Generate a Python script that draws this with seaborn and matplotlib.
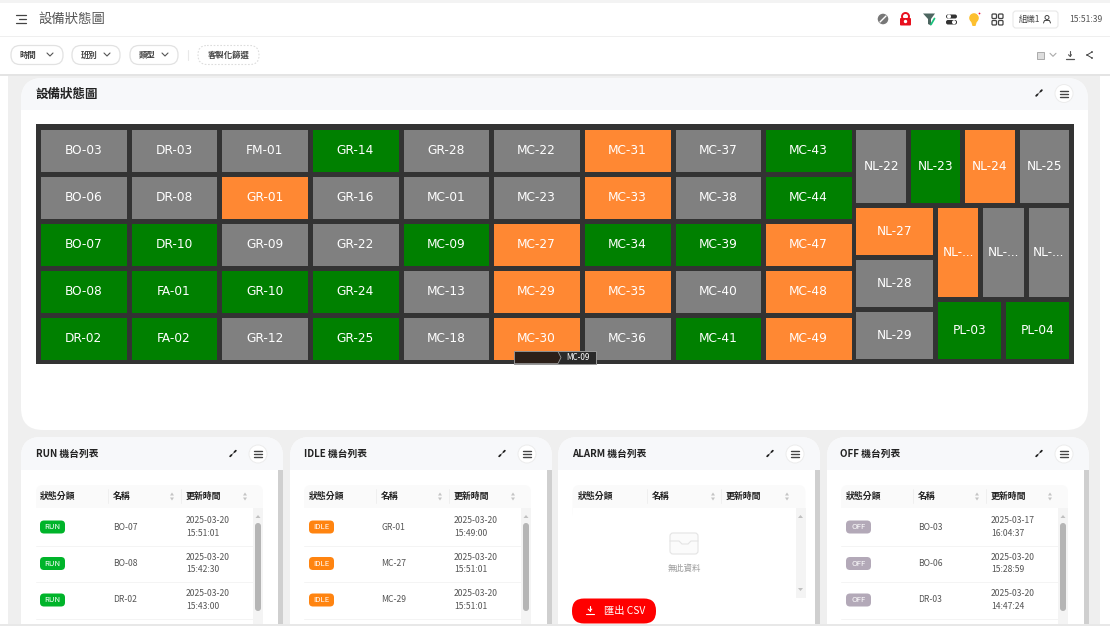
import numpy as np
import matplotlib
matplotlib.use("Agg")
import matplotlib.pyplot as plt
from matplotlib.colors import ListedColormap
from matplotlib.patches import Circle, FancyBboxPatch, Polygon, Rectangle
import seaborn as sns

sns.set_theme(style="white")
CJK = ["Noto Sans CJK TC", "DejaVu Sans"]
plt.rcParams["font.family"] = CJK

# status codes: 0 run, 1 idle, 2 off
RUN, IDLE, OFF = 0, 1, 2
COLORS = ["#008000", "#ff8833", "#808080"]

# main treemap block, one list per row
grid_names = [
    ["BO-03", "DR-03", "FM-01", "GR-14", "GR-28", "MC-22", "MC-31", "MC-37", "MC-43"],
    ["BO-06", "DR-08", "GR-01", "GR-16", "MC-01", "MC-23", "MC-33", "MC-38", "MC-44"],
    ["BO-07", "DR-10", "GR-09", "GR-22", "MC-09", "MC-27", "MC-34", "MC-39", "MC-47"],
    ["BO-08", "FA-01", "GR-10", "GR-24", "MC-13", "MC-29", "MC-35", "MC-40", "MC-48"],
    ["DR-02", "FA-02", "GR-12", "GR-25", "MC-18", "MC-30", "MC-36", "MC-41", "MC-49"],
]
grid_status = [
    [OFF, OFF, OFF, RUN, OFF, OFF, IDLE, OFF, RUN],
    [OFF, OFF, IDLE, OFF, OFF, OFF, IDLE, OFF, RUN],
    [RUN, RUN, OFF, OFF, RUN, IDLE, RUN, RUN, IDLE],
    [RUN, RUN, RUN, RUN, OFF, IDLE, IDLE, OFF, IDLE],
    [RUN, RUN, OFF, RUN, OFF, IDLE, OFF, RUN, IDLE],
]

# the right hand part of the treemap, nested the way it is split
right_names = [
    ["NL-22", "NL-23", "NL-24", "NL-25"],
    [["NL-27", "NL-28", "NL-29"],
     [["NL-...", "NL-...", "NL-..."], ["PL-03", "PL-04"]]],
]
right_status = [OFF, RUN, IDLE, OFF, IDLE, OFF, OFF, IDLE, OFF, OFF, RUN, RUN]

# list panels
panel_titles = ["RUN 機台列表", "IDLE 機台列表", "ALARM 機台列表", "OFF 機台列表"]
panel_pills = ["RUN", "IDLE", None, "OFF"]
panel_pill_colors = ["#00b42a", "#ff8410", None, "#b3a9b8"]
panel_machines = [["BO-07", "BO-08", "DR-02"], ["GR-01", "MC-27", "MC-29"], [], ["BO-03", "BO-06", "DR-03"]]
panel_dates = [
    ["2025-03-20", "2025-03-20", "2025-03-20"],
    ["2025-03-20", "2025-03-20", "2025-03-20"],
    [],
    ["2025-03-17", "2025-03-20", "2025-03-20"],
]
panel_times = [
    ["15:51:01", "15:42:30", "15:43:00"],
    ["15:49:00", "15:51:01", "15:51:01"],
    [],
    ["16:04:37", "15:28:59", "14:47:24"],
]
table_columns = ["狀態分類", "名稱", "更新時間"]
filter_labels = ["時間", "班別", "類型"]

W, H = 1110, 626
fig = plt.figure(figsize=(W / 100, H / 100), dpi=100, facecolor="#efefef")


def px_axes(zorder):
    a = fig.add_axes([0, 0, 1, 1], zorder=zorder)
    a.set_xlim(0, W)
    a.set_ylim(H, 0)
    a.axis("off")
    a.patch.set_alpha(0)
    return a


def box(a, x0, y0, x1, y1, r=0, fc="white", ec="none", lw=0.8, ls="-", z=1):
    if r:
        p = FancyBboxPatch((x0, y0), x1 - x0, y1 - y0, boxstyle=f"round,pad=0,rounding_size={r}",
                           fc=fc, ec=ec, lw=lw, ls=ls, zorder=z)
    else:
        p = Rectangle((x0, y0), x1 - x0, y1 - y0, fc=fc, ec=ec, lw=lw, ls=ls, zorder=z)
    a.add_patch(p)
    return p


def label(a, x, y, s, size=6, color="#333333", ha="left", weight="normal", z=5):
    a.text(x, y, s, fontsize=size, color=color, ha=ha, va="center", fontweight=weight, zorder=z)


def menu_button(a, cx, cy):
    a.add_patch(Circle((cx, cy), 9.5, fc="#ececec", ec="none", zorder=3))
    a.add_patch(Circle((cx, cy), 8.5, fc="white", ec="none", zorder=3))
    for dy in (-3, 0, 3):
        a.plot([cx - 4, cx + 4], [cy + dy, cy + dy], color="#444444", lw=1.0, zorder=4)


def expand_icon(a, cx, cy):
    a.plot([cx - 3, cx + 3], [cy + 3, cy - 3], color="#555555", lw=0.5, zorder=4)
    a.plot([cx - 2.8, cx - 1.5], [cy + 2.8, cy + 1.5], color="#222222", lw=1.3, zorder=4)
    a.plot([cx + 1.5, cx + 2.8], [cy - 1.5, cy - 2.8], color="#222222", lw=1.3, zorder=4)


def chevron(a, cx, cy, color="#555555", s=3):
    a.plot([cx - s, cx, cx + s], [cy - s / 2, cy + s / 2, cy - s / 2], color=color, lw=0.8, zorder=4)


def sort_arrows(a, cx, cy):
    a.add_patch(Polygon([[cx - 2, cy - 1], [cx + 2, cy - 1], [cx, cy - 4]], fc="#c4c4c4", ec="none", zorder=4))
    a.add_patch(Polygon([[cx - 2, cy + 1], [cx + 2, cy + 1], [cx, cy + 4]], fc="#c4c4c4", ec="none", zorder=4))


bg = px_axes(0)

# page frame
box(bg, 0, 75, 8, H, fc="white")
box(bg, 1100, 75, W, H, fc="white")
box(bg, 0, 0, W, 3, fc="#f3f3f3")
box(bg, 0, 3, W, 36, fc="white")
box(bg, 0, 37, W, 74, fc="white")
box(bg, 0, 74, W, 76, fc="#e4e4e4")
box(bg, 0, 624, W, H, fc="#e8e8e8", z=9)

# top bar
for dy, x0 in ((-4, 16), (0, 19), (4, 16)):
    bg.plot([x0, 26], [19 + dy, 19 + dy], color="#444444", lw=0.9)
label(bg, 38, 19, "設備狀態圖", size=9.6, color="#555555")

bg.add_patch(Circle((883, 19), 6, fc="#777777"))
bg.plot([880, 886], [22, 16], color="white", lw=1)
box(bg, 900, 18, 911, 25.5, r=1, fc="#e8101e")
bg.add_patch(Circle((905.5, 16.5), 3.5, fc="none", ec="#e8101e", lw=1.4))
bg.add_patch(Circle((905.5, 21.5), 1, fc="white", zorder=3))
bg.add_patch(Polygon([[923, 13.5], [935, 13.5], [931, 19], [931, 25.5], [928, 24], [928, 19]], fc="#4d6660", ec="none"))
bg.plot([931, 934.5], [24.5, 18.5], color="#19c37d", lw=1.3)
box(bg, 946, 14.5, 957, 18.5, r=2, fc="#333333")
box(bg, 946, 20, 957, 24.5, r=2, fc="#333333")
bg.add_patch(Circle((949, 16.5), 1.3, fc="white", zorder=3))
bg.add_patch(Circle((954, 22.2), 1.3, fc="white", zorder=3))
bg.add_patch(Circle((974, 18), 5.5, fc="#fdc02f"))
bg.add_patch(Polygon([[971, 21], [977, 21], [975.5, 26], [972.5, 26]], fc="#fdc02f", ec="none"))
bg.add_patch(Circle((979.5, 13.5), 1.6, fc="#f0103c", zorder=3))
for gx in (992, 998.5):
    for gy in (14, 20.5):
        box(bg, gx, gy, gx + 4.5, gy + 4.5, r=1, fc="white", ec="#444444", lw=0.9)
box(bg, 1013, 11, 1058, 28, r=3, fc="white", ec="#e8e8e8")
label(bg, 1019, 19.5, "組織1", size=6, color="#444444")
bg.add_patch(Circle((1047, 17.5), 2, fc="none", ec="#444444", lw=0.7))
bg.plot([1043.5, 1044.5, 1049.5, 1050.5], [23, 20.5, 20.5, 23], color="#444444", lw=0.7)
label(bg, 1069, 19.5, "15:51:39", size=6.2, color="#555555")

# filter pills
pill_spans = [(11, 63), (72, 120), (130, 178)]
for (x0, x1), s in zip(pill_spans, filter_labels):
    box(bg, x0, 45.5, x1, 64.5, r=9, fc="white", ec="#e2e2e2", lw=0.9)
    label(bg, x0 + 9, 55, s, size=6, color="#444444", weight="bold")
    chevron(bg, x1 - 13, 54.5)
bg.plot([187.5, 187.5], [50, 60], color="#e8e8e8", lw=0.8)
box(bg, 198, 45.5, 259, 64.5, r=9, fc="white", ec="#dddddd", lw=0.8, ls=(0, (1.5, 1.5)))
label(bg, 228.5, 55, "客製化篩選", size=6, color="#444444", ha="center", weight="bold")

# toolbar icons
box(bg, 1037, 52, 1044, 59, fc="#dddddd", ec="#aaaaaa", lw=0.7)
chevron(bg, 1053, 54.8, color="#aaaaaa")
bg.plot([1070, 1070], [51, 56], color="#555555", lw=0.8)
bg.plot([1066, 1074], [59, 59], color="#555555", lw=0.9)
chevron(bg, 1070, 55.5, color="#555555", s=1.5)
bg.plot([1092, 1087, 1092], [52, 55, 58], color="#444444", lw=0.7)
for sx, sy in ((1092, 52), (1087, 55), (1092, 58)):
    bg.add_patch(Circle((sx, sy), 1.6, fc="#444444"))

# main card
card = box(bg, 21, 78, 1088, 430, r=22, fc="white")
hd = box(bg, 21, 78, 1088, 110, fc="#f7f8fa", z=1.5)
hd.set_clip_path(card)
label(bg, 35.5, 94, "設備狀態圖", size=9, color="#222222", weight="bold")
expand_icon(bg, 1039, 93)
menu_button(bg, 1064, 93.5)
box(bg, 35.5, 124, 1074, 364, fc="#333333", z=2)

# treemap, every item has the same area
n_rows = len(grid_names)
n_right = len(right_status)
total_cols = len(grid_names[0]) + n_right / n_rows
ax = fig.add_axes([38 / W, 1 - 361.5 / H, (1071.5 - 38) / W, (361.5 - 127.5) / H], zorder=2)
ax.patch.set_alpha(0)
sns.heatmap(
    np.array(grid_status), ax=ax, cmap=ListedColormap(COLORS), vmin=-0.5, vmax=2.5, cbar=False,
    annot=np.array(grid_names), fmt="", annot_kws={"fontsize": 8.7, "color": "white", "family": "DejaVu Sans"},
    linewidths=3.6, linecolor="#333333", xticklabels=False, yticklabels=False,
)
ax.set_xlim(0, total_cols)
ax.set_ylim(n_rows, 0)
ax.axis("off")

pad_x = 2.5 / (1033.5 / total_cols)
pad_y = 2.5 / (234 / n_rows)
status_iter = iter(right_status)


def leaves(node):
    return 1 if isinstance(node, str) else sum(leaves(n) for n in node)


def draw_split(node, x, y, w, h, depth=0):
    if isinstance(node, str):
        ax.add_patch(Rectangle((x + pad_x, y + pad_y), w - 2 * pad_x, h - 2 * pad_y, fc=COLORS[next(status_iter)], ec="none"))
        ax.text(x + w / 2, y + h / 2, node, color="white", fontsize=8.7, family="DejaVu Sans", ha="center", va="center")
        return
    total = leaves(node)
    for child in node:
        share = leaves(child) / total
        if depth % 2 == 0:
            draw_split(child, x, y, w, h * share, depth + 1)
            y += h * share
        else:
            draw_split(child, x, y, w * share, h, depth + 1)
            x += w * share


draw_split(right_names, len(grid_names[0]), 0, n_right / n_rows, n_rows)

# breadcrumb tip over the treemap
top = px_axes(3)
box(top, 514, 351, 596, 364, fc="#2a2a2a", ec="#9a9a9a", lw=0.7)
top.add_patch(Polygon([[514.5, 351.5], [558, 351.5], [561, 357.5], [558, 363.5], [514.5, 363.5]], fc="#2b1f19", ec="#9a9a9a", lw=0.6, zorder=3))
label(top, 578, 357.5, "MC-09", size=5.8, color="white", ha="center")

# list panels
panel_left = [21, 290, 558, 827]
table_left = [36, 304, 572.5, 841]
text_cols = [[40, 113, 186], [309, 381, 454], [578, 652, 726], [846, 918, 991]]
row_y = [527, 563.5, 600]

for i, x0 in enumerate(panel_left):
    x1 = x0 + 262
    pc = box(bg, x0, 437, x1, 660, r=20, fc="white")
    hp = box(bg, x0, 437, x1, 470, fc="#f7f8fa", z=1.5)
    hp.set_clip_path(pc)
    label(bg, table_left[i] - 0.5, 454, panel_titles[i], size=7, color="#222222", weight="bold")
    expand_icon(bg, x1 - 50, 453.5)
    menu_button(bg, x1 - 25, 454)
    box(bg, x1 - 5, 470, x1, 626, fc="#cfcfcf", z=2)

    tx0, tx1 = table_left[i], table_left[i] + 227 + (6 if i == 2 else 0)
    box(bg, tx0, 485, tx1, 520, r=7, fc="#fafafa", z=2)
    box(bg, tx0, 508, tx1, 626, fc="white", z=2.2)
    cols = text_cols[i]
    for j, s in enumerate(table_columns):
        label(bg, cols[j], 496.5, s, size=6.4, color="#222222", weight="bold")
        if j:
            bg.plot([cols[j] - 5.5] * 2, [489, 503], color="#efefef", lw=0.7, zorder=3)
            sort_arrows(bg, cols[j] + (59 if i != 2 else 61), 496.5)

    # inner scrollbar
    box(bg, tx1 - 10, 508, tx1, 626 if i != 2 else 598, fc="#f4f4f4", z=3)
    bg.add_patch(Polygon([[tx1 - 7.5, 518], [tx1 - 2.5, 518], [tx1 - 5, 515]], fc="#c0c0c0", ec="none", zorder=4))
    if i != 2:
        box(bg, tx1 - 8, 523, tx1 - 2, 611, r=3, fc="#b5b5b5", z=3.5)
    else:
        bg.add_patch(Polygon([[tx1 - 7.5, 588], [tx1 - 2.5, 588], [tx1 - 5, 591]], fc="#c0c0c0", ec="none", zorder=4))

    for k, (m, d, t) in enumerate(zip(panel_machines[i], panel_dates[i], panel_times[i])):
        y = row_y[k]
        box(bg, cols[0], y - 6.5, cols[0] + 25, y + 6.5, r=4, fc=panel_pill_colors[i], z=3)
        label(bg, cols[0] + 12.5, y, panel_pills[i], size=5.6, color="white", ha="center")
        label(bg, cols[1], y, m, size=6.2, color="#555555")
        label(bg, cols[2], y - 6.5, d, size=6.2, color="#555555")
        label(bg, cols[2], y + 6.5, t, size=6.2, color="#555555")
        bg.plot([tx0, tx1 - 10], [y + 18.5, y + 18.5], color="#f4f4f4", lw=0.7, zorder=3)

# empty state of the alarm panel
box(bg, 670, 533, 698, 554, r=3, fc="#fbfbfb", ec="#e4e4e4", lw=0.8, z=3)
bg.plot([670, 679, 682, 688, 691, 698], [541, 541, 544, 544, 541, 541], color="#e4e4e4", lw=0.8, zorder=4)
label(bg, 684, 568, "無此資料", size=6, color="#999999", ha="center")

# export button
box(top, 572, 598.5, 656, 623.5, r=12, fc="#ff0000")
top.plot([590, 590], [606, 611], color="white", lw=0.8, zorder=4)
top.plot([586, 594], [614, 614], color="white", lw=0.8, zorder=4)
chevron(top, 590, 610, color="white", s=1.8)
label(top, 604, 611, "匯出 CSV", size=7.4, color="white")

fig.savefig("out.png", dpi=100, facecolor=fig.get_facecolor())
